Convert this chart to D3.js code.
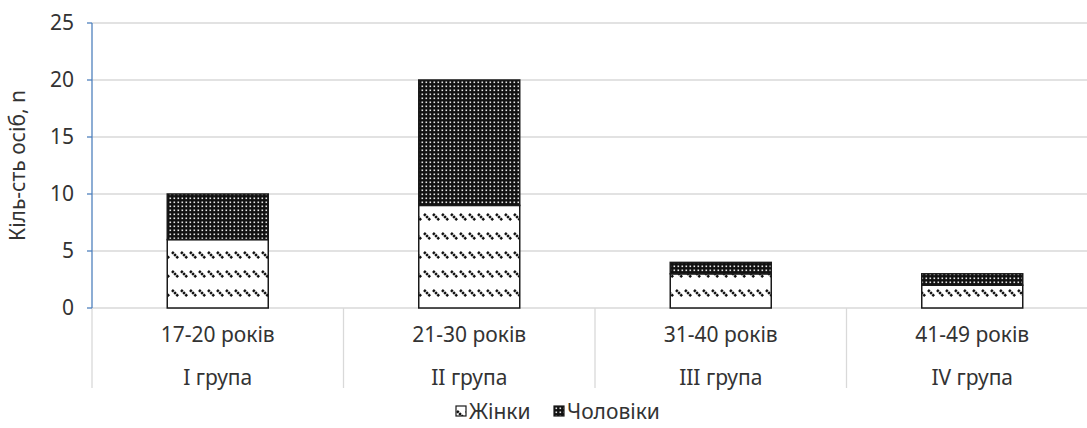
<!DOCTYPE html>
<html>
  <head>
    <meta charset="utf-8">
    <title>Кількість осіб за віковими групами</title>
    <script src="https://cdn.jsdelivr.net/npm/d3@7"></script>
    <style>
      body { margin: 0; background: #fff; font-family: "Noto Sans", "Open Sans", sans-serif; }
      #chart { display: block; }
      .tickLabel { font-size: 21px; fill: #333; }
      .catLabel { font-size: 21px; fill: #333; }
      .legendLabel { font-size: 21px; fill: #333; }
    </style>
  </head>

  <body>
    <svg id="chart" width="1087" height="428">
      <defs id="defs"></defs>
      <g id="gridGroup"></g>
      <g id="barGroup"></g>
      <g id="axisGroup"></g>
      <g id="legendGroup"></g>
    </svg>

    <script>
      // data
      ages = ["17-20 років", "21-30 років", "31-40 років", "41-49 років"];
      groups = ["I група", "II група", "III група", "IV група"];
      women = [6, 9, 3, 2];
      men = [4, 11, 1, 1];
      seriesNames = ["Жінки", "Чоловіки"];
      yTicks = [0, 5, 10, 15, 20, 25];

      // elements
      chart = d3.select("#chart");
      defs = d3.select("#defs");
      gridGroup = d3.select("#gridGroup");
      barGroup = d3.select("#barGroup");
      axisGroup = d3.select("#axisGroup");
      legendGroup = d3.select("#legendGroup");

      margin = { top: 23, bottom: 308, left: 92, right: 1098 };

      x = d3.scaleBand()
        .domain(ages)
        .range([margin.left, margin.right]);
      y = d3.scaleLinear()
        .domain([0, 25])
        .range([margin.bottom, margin.top]);

      // patterns
      dash = defs.append("pattern")
        .attr("id", "dashPattern")
        .attr("patternUnits", "userSpaceOnUse")
        .attr("width", 9)
        .attr("height", 19)
        .attr("y", 4);
      dash.append("rect").attr("width", 9).attr("height", 19).attr("fill", "#fff");
      dash.append("line")
        .attr("x1", 1).attr("y1", 1).attr("x2", 7.5).attr("y2", 7.5)
        .attr("stroke", "#111").attr("stroke-width", 2.6)
        .attr("stroke-dasharray", "2.4 0.7");

      dots = defs.append("pattern")
        .attr("id", "dotPattern")
        .attr("patternUnits", "userSpaceOnUse")
        .attr("width", 4)
        .attr("height", 4);
      dots.append("rect").attr("width", 4).attr("height", 4).attr("fill", "#111");
      dots.append("rect").attr("x", 1.5).attr("y", 1.5).attr("width", 1.6).attr("height", 1.6).attr("fill", "#e6e6e6");

      // gridlines
      gridGroup.selectAll(".grid")
        .data(yTicks.slice(1))
        .enter().append("line")
          .attr("x1", margin.left).attr("x2", margin.right)
          .attr("y1", function(d) { return y(d); })
          .attr("y2", function(d) { return y(d); })
          .attr("stroke", "#d9d9d9").attr("stroke-width", 1.3);

      // baseline and category separators
      gridGroup.append("line")
        .attr("x1", margin.left).attr("x2", margin.right)
        .attr("y1", y(0)).attr("y2", y(0))
        .attr("stroke", "#d9d9d9").attr("stroke-width", 1.3);
      separators = [margin.left].concat(ages.map(function(d) { return x(d) + x.bandwidth(); }));
      gridGroup.selectAll(".sep")
        .data(separators)
        .enter().append("line")
          .attr("x1", function(d) { return d; }).attr("x2", function(d) { return d; })
          .attr("y1", y(0)).attr("y2", 388)
          .attr("stroke", "#d9d9d9").attr("stroke-width", 1.3);

      // bars
      barWidth = 101;
      stackData = ages.map(function(a, i) {
        return [
          { cat: a, y0: 0, y1: women[i], fill: "url(#dashPattern)" },
          { cat: a, y0: women[i], y1: women[i] + men[i], fill: "url(#dotPattern)" }
        ];
      });
      barGroup.selectAll(".bar")
        .data(stackData.flat())
        .enter().append("rect")
          .classed("bar", true)
          .attr("x", function(d) { return x(d.cat) + x.bandwidth() / 2 - barWidth / 2; })
          .attr("width", barWidth)
          .attr("y", function(d) { return y(d.y1); })
          .attr("height", function(d) { return y(d.y0) - y(d.y1); })
          .attr("fill", function(d) { return d.fill; })
          .attr("stroke", "#1a1a1a")
          .attr("stroke-width", 1.5);

      // y axis
      axisGroup.append("line")
        .attr("x1", margin.left).attr("x2", margin.left)
        .attr("y1", y(25)).attr("y2", y(0))
        .attr("stroke", "#4f81bd").attr("stroke-width", 1.3);
      axisGroup.selectAll(".ytick")
        .data(yTicks)
        .enter().append("line")
          .attr("x1", margin.left - 5).attr("x2", margin.left)
          .attr("y1", function(d) { return y(d); })
          .attr("y2", function(d) { return y(d); })
          .attr("stroke", "#4f81bd").attr("stroke-width", 1.3);
      axisGroup.selectAll(".tickLabel")
        .data(yTicks)
        .enter().append("text")
          .classed("tickLabel", true)
          .attr("x", margin.left - 18)
          .attr("y", function(d) { return y(d); })
          .attr("dy", "0.35em")
          .attr("text-anchor", "end")
          .text(function(d) { return d; });

      axisGroup.append("text")
        .classed("tickLabel", true)
        .attr("transform", "translate(25," + ((y(0) + y(25)) / 2) + ") rotate(-90)")
        .attr("text-anchor", "middle")
        .text("Кіль-сть осіб, n");

      // category labels
      axisGroup.selectAll(".ageLabel")
        .data(ages)
        .enter().append("text")
          .classed("catLabel", true)
          .attr("x", function(d) { return x(d) + x.bandwidth() / 2; })
          .attr("y", 342)
          .attr("text-anchor", "middle")
          .text(function(d) { return d; });
      axisGroup.selectAll(".groupLabel")
        .data(groups)
        .enter().append("text")
          .classed("catLabel", true)
          .attr("x", function(d, i) { return x(ages[i]) + x.bandwidth() / 2; })
          .attr("y", 385)
          .attr("text-anchor", "middle")
          .text(function(d) { return d; });

      // legend
      legendItems = [
        { name: seriesNames[0], fill: "url(#dashPattern)", x: 456 },
        { name: seriesNames[1], fill: "url(#dotPattern)", x: 554 }
      ];
      legend = legendGroup.selectAll(".legendItem")
        .data(legendItems)
        .enter().append("g")
          .attr("transform", function(d) { return "translate(" + d.x + ",406)"; });
      legend.append("rect")
        .attr("width", 10).attr("height", 10)
        .attr("fill", function(d) { return d.fill; })
        .attr("stroke", "#1a1a1a").attr("stroke-width", 1.2);
      legend.append("text")
        .classed("legendLabel", true)
        .attr("x", 13).attr("y", 13)
        .text(function(d) { return d.name; });
    </script>
  </body>
</html>
